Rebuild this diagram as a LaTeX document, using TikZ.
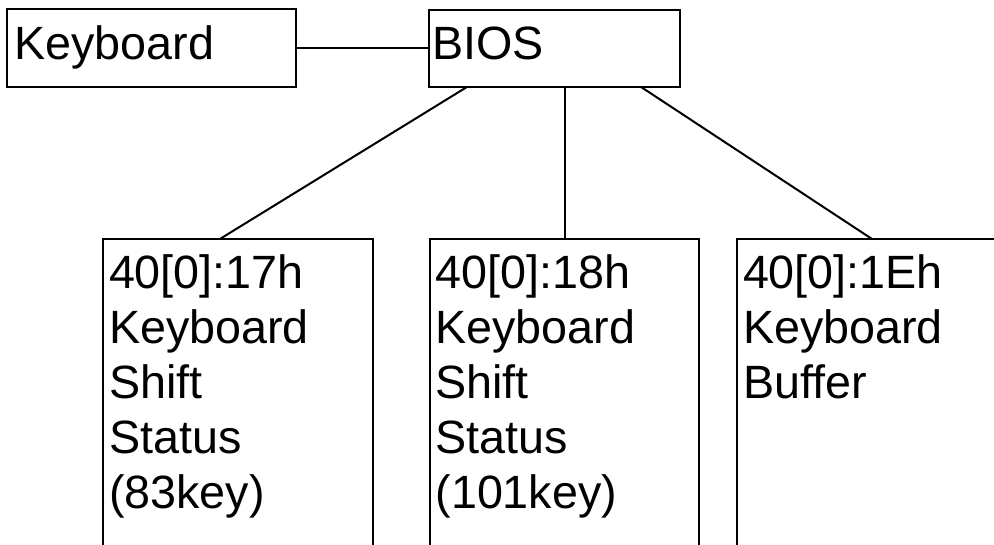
\documentclass[tikz,border=0pt]{standalone}
\usepackage{fontspec}
\setmainfont{Liberation Sans}
\usetikzlibrary{calc}
\begin{document}
\begin{tikzpicture}[x=1pt,y=-1pt,line width=2pt,
  box/.style={draw,rectangle,inner sep=0pt,outer sep=0pt,anchor=north west},
  lbl/.style={anchor=base west,inner sep=0pt,align=left,font=\fontsize{46.7}{55}\selectfont}]
\useasboundingbox (0,0) rectangle (994,544);
\fill[white] (0,0) rectangle (994,544);
\clip (0,0) rectangle (994,544);
% boxes
\node[box,minimum width=289pt,minimum height=78pt] (kb) at (7,9) {};
\node[box,minimum width=251pt,minimum height=77pt] (bios) at (429,10) {};
\node[box,minimum width=270pt,minimum height=361pt] (b1) at (103,239) {};
\node[box,minimum width=269pt,minimum height=361pt] (b2) at (430,239) {};
\node[box,minimum width=270pt,minimum height=361pt] (b3) at (737,239) {};
% texts (base anchor = baseline of last line)
\node[lbl] (kbt) at (13.3,59) {Keyboard};
\node[lbl] (biost) at (431.5,59) {BIOS};
\node[lbl] (t1) at (108,508) {40[0]:17h\\Keyboard\\Shift\\Status\\(83key)};
\node[lbl] (t2) at (434.5,508) {40[0]:18h\\Keyboard\\Shift\\Status\\(101key)};
\node[lbl] (t3) at (742,398) {40[0]:1Eh\\Keyboard\\Buffer};
% connectors
\draw (kb.east) -- (kb.east -| bios.west);
\draw ($(bios.south west)!0.151!(bios.south east)$) -- ($(b1.north west)!0.433!(b1.north east)$);
\draw (b2.north |- bios.south) -- (b2.north);
\draw ($(bios.south west)!0.845!(bios.south east)$) -- (b3.north);
\end{tikzpicture}
\end{document}
